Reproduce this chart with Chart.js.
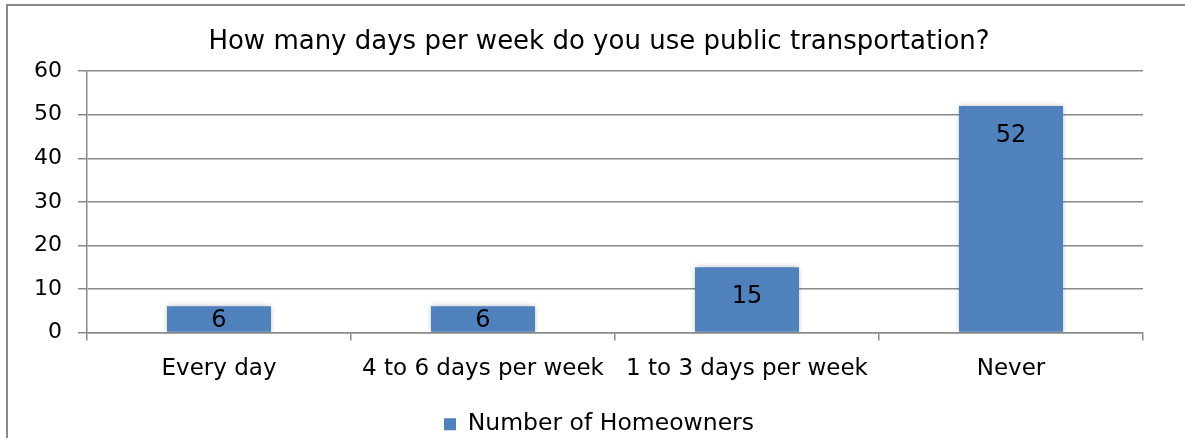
<!DOCTYPE html>
<html>
<head>
<meta charset="utf-8">
<script src="https://cdn.jsdelivr.net/npm/chart.js@4.4.0/dist/chart.umd.min.js"></script>
<style>
  html, body { margin: 0; padding: 0; background: #fff; }
  #wrap { width: 1185px; height: 438px; }
</style>
</head>
<body>
<div id="wrap"><canvas id="chart" width="1185" height="438"></canvas></div>
<script>
const categories = ['Every day', '4 to 6 days per week', '1 to 3 days per week', 'Never'];
const homeowners = [6, 6, 15, 52];
const yTicks = [0, 10, 20, 30, 40, 50, 60];

const FONT = 'DejaVu Sans';
const GRID = '#8a8a8a';

// frame around the whole chart (top and left edges are visible)
const framePlugin = {
    id: 'frame',
    beforeDraw(chart) {
        const ctx = chart.ctx;
        ctx.save();
        ctx.strokeStyle = GRID;
        ctx.lineWidth = 2;
        ctx.strokeRect(7, 5, 1200, 460);
        ctx.restore();
    }
};

// title and legend are centred a bit right of the plot centre in the original
const centreBlocks = {
    id: 'centreBlocks',
    afterLayout(chart) {
        if (chart.titleBlock) chart.titleBlock.left = 55;
        if (chart.legend) chart.legend.left = 55;
    }
};

// soft shadow behind bars
const shadowPlugin = {
    id: 'barShadow',
    beforeDatasetDraw(chart) {
        const ctx = chart.ctx;
        ctx.save();
        ctx.shadowColor = 'rgba(0,0,0,0.28)';
        ctx.shadowBlur = 5;
    },
    afterDatasetDraw(chart) {
        chart.ctx.restore();
    }
};

// value labels, inside end of each bar
const valueLabels = {
    id: 'valueLabels',
    afterDatasetsDraw(chart) {
        const ctx = chart.ctx;
        const meta = chart.getDatasetMeta(0);
        ctx.save();
        ctx.font = '24px "' + FONT + '"';
        ctx.fillStyle = '#000';
        ctx.textAlign = 'center';
        ctx.textBaseline = 'middle';
        meta.data.forEach((bar, i) => {
            const y = Math.min(bar.y + 30, (bar.y + bar.base) / 2 + 2);
            ctx.fillText(String(homeowners[i]), bar.x, y);
        });
        ctx.restore();
    }
};

new Chart(document.getElementById('chart'), {
    type: 'bar',
    data: {
        labels: categories,
        datasets: [{
            label: 'Number of Homeowners',
            data: homeowners,
            backgroundColor: '#4f81bd',
            borderWidth: 0,
            categoryPercentage: 1,
            barPercentage: 0.394
        }]
    },
    options: {
        responsive: false,
        animation: false,
        layout: { padding: { left: 0, right: 42, top: 0, bottom: -8 } },
        plugins: {
            title: {
                display: true,
                text: 'How many days per week do you use public transportation?',
                color: '#000',
                font: { family: FONT, size: 26, weight: 'normal' },
                padding: { top: 27, bottom: 13 }
            },
            legend: {
                position: 'bottom',
                labels: {
                    color: '#000',
                    font: { family: FONT, size: 23.5 },
                    boxWidth: 12,
                    boxHeight: 12,
                    padding: 8
                }
            },
            tooltip: { enabled: false }
        },
        scales: {
            x: {
                grid: { display: true, drawOnChartArea: false, color: GRID, lineWidth: 1.5, tickLength: 8, offset: true },
                border: { color: GRID, width: 1.5 },
                ticks: { color: '#000', font: { family: FONT, size: 23 }, padding: 15, maxRotation: 0, autoSkip: false },
                afterFit: s => { s.height = 72; }
            },
            y: {
                min: 0,
                max: 60,
                afterBuildTicks: s => { s.ticks = yTicks.map(v => ({ value: v })); },
                grid: { color: GRID, lineWidth: 1.5, tickLength: 9 },
                border: { color: GRID, width: 1.5 },
                ticks: { color: '#000', font: { family: FONT, size: 22 }, padding: 16 },
                afterFit: s => { s.width = 87; }
            }
        }
    },
    plugins: [framePlugin, centreBlocks, shadowPlugin, valueLabels]
});
</script>
</body>
</html>
